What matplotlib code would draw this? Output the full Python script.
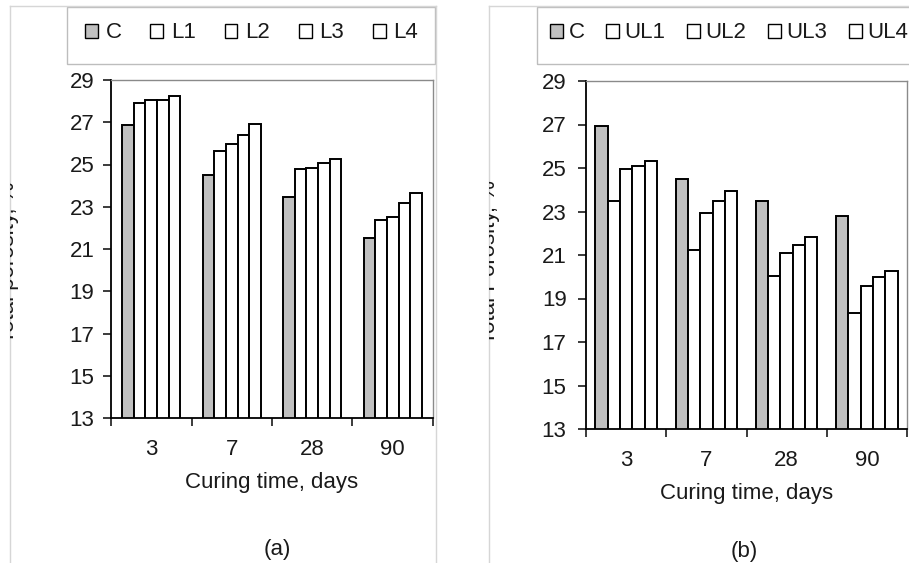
import numpy as np
import matplotlib
matplotlib.use("Agg")
import matplotlib.pyplot as plt
from matplotlib.patches import Patch, Rectangle
from matplotlib.lines import Line2D
from matplotlib.transforms import Bbox, TransformedBbox

plt.rcParams["font.family"] = ["Liberation Sans", "DejaVu Sans"]
FS = 16

### Data
days = ["3", "7", "28", "90"]

# (a) control and L mixes
series_a = ["C", "L1", "L2", "L3", "L4"]
C_a = [26.85, 24.50, 23.45, 21.52]
L1 = [27.90, 25.65, 24.78, 22.35]
L2 = [28.05, 25.95, 24.85, 22.52]
L3 = [28.05, 26.38, 25.08, 23.17]
L4 = [28.22, 26.94, 25.25, 23.65]

# (b) control and UL mixes
series_b = ["C", "UL1", "UL2", "UL3", "UL4"]
C_b = [26.92, 24.50, 23.48, 22.78]
UL1 = [23.48, 21.22, 20.05, 18.33]
UL2 = [24.95, 22.93, 21.07, 19.57]
UL3 = [25.10, 23.48, 21.46, 19.98]
UL4 = [25.33, 23.95, 21.84, 20.28]

y_ticks = [13, 15, 17, 19, 21, 23, 25, 27, 29]

W, H = 909, 563
fig = plt.figure(figsize=(W / 100, H / 100), dpi=100)
fig.patch.set_facecolor("white")

fills = ["#c0c0c0", "white", "white", "white", "white"]
txt_c = "#1a1a1a"


def px_rect(x0, y0, x1, y1):
    # pixel box (top-left origin) -> figure fraction [l, b, w, h]
    return [x0 / W, 1 - y1 / H, (x1 - x0) / W, (y1 - y0) / H]


def draw_panel(rect, series, width, ypad):
    ax = fig.add_axes(rect)
    x = np.arange(len(days)) + 0.5
    n = len(series)
    for i, (vals, c) in enumerate(zip(series, fills)):
        ax.bar(x + (i - (n - 1) / 2) * width, vals, width, color=c,
               edgecolor="black", linewidth=1.4, zorder=2)
    ax.set_xlim(0, len(days))
    ax.set_ylim(13, 29)
    ax.set_yticks(y_ticks)
    ax.set_xticks(np.arange(len(days) + 1))
    ax.set_xticklabels([])
    ax.set_xticks(x, minor=True)
    ax.set_xticklabels(days, minor=True)
    ax.tick_params(axis="x", which="major", length=6, width=1.2, direction="out")
    ax.tick_params(axis="x", which="minor", length=0, pad=15)
    ax.tick_params(axis="y", length=6, width=1.2, direction="out", pad=ypad)
    ax.tick_params(which="both", labelsize=FS, colors=txt_c)
    for s in ["left", "bottom"]:
        ax.spines[s].set_color("black")
        ax.spines[s].set_linewidth(1.3)
    for s in ["top", "right"]:
        ax.spines[s].set_color("#8a8a8a")
        ax.spines[s].set_linewidth(1.0)
    ax.set_xlabel("Curing time, days", fontsize=FS, labelpad=9, color=txt_c)
    return ax


# panel (a)
ax_a = draw_panel(px_rect(111, 80, 433, 418), [C_a, L1, L2, L3, L4], 0.145, 6)
# panel (b)
ax_b = draw_panel(px_rect(586, 81, 907, 429), [C_b, UL1, UL2, UL3, UL4], 0.153, 8)

# outer panel frames
frame_c = "#d6d6d6"
for xs, ys in [([10, 10], [6, H]), ([10, 436], [6, 6]), ([436, 436], [6, H]),
               ([489, 489], [6, H]), ([489, W], [6, 6])]:
    fig.add_artist(Line2D([v / W for v in xs], [1 - v / H for v in ys],
                          color=frame_c, lw=1.0))

# legend boxes
for x0, x1 in [(67, 435), (537, W + 5)]:
    r = px_rect(x0, 7, x1, 64)
    fig.add_artist(Rectangle((r[0], r[1]), r[2], r[3], transform=fig.transFigure,
                             facecolor="none", edgecolor="#bdbdbd", lw=1.0))

for names, x_left, colsp, tpad in [(series_a, 85, 1.3, 0.34),
                                   (series_b, 550, 0.97, 0.25)]:
    handles = [Patch(facecolor=c, edgecolor="black", linewidth=1.0) for c in fills]
    leg = fig.legend(handles, names, loc="center left", ncol=5,
                     bbox_to_anchor=(x_left / W, 1 - 33 / H), frameon=False,
                     fontsize=FS, handlelength=0.58, handleheight=0.58,
                     handletextpad=tpad, columnspacing=colsp, borderpad=0,
                     borderaxespad=0)
    for t in leg.get_texts():
        t.set_color(txt_c)

# y labels, clipped by the panel frames
for label, xb, left in [("Total porosity, %", 14.5, 10), ("Total Porosity, %", 494.5, 489)]:
    t = fig.text(xb / W, 1 - 262 / H, label, rotation=90, rotation_mode="anchor",
                 ha="center", va="baseline", fontsize=FS, color=txt_c)
    clip = TransformedBbox(Bbox([[left / W, 0], [1, 1]]), fig.transFigure)
    t.set_clip_box(clip)
    t.set_clip_on(True)

fig.text(277 / W, 1 - 549 / H, "(a)", ha="center", va="center", fontsize=FS,
         color=txt_c)
fig.text(744 / W, 1 - 552 / H, "(b)", ha="center", va="center", fontsize=FS,
         color=txt_c)

fig.savefig("out.png", dpi=100, facecolor="white")
